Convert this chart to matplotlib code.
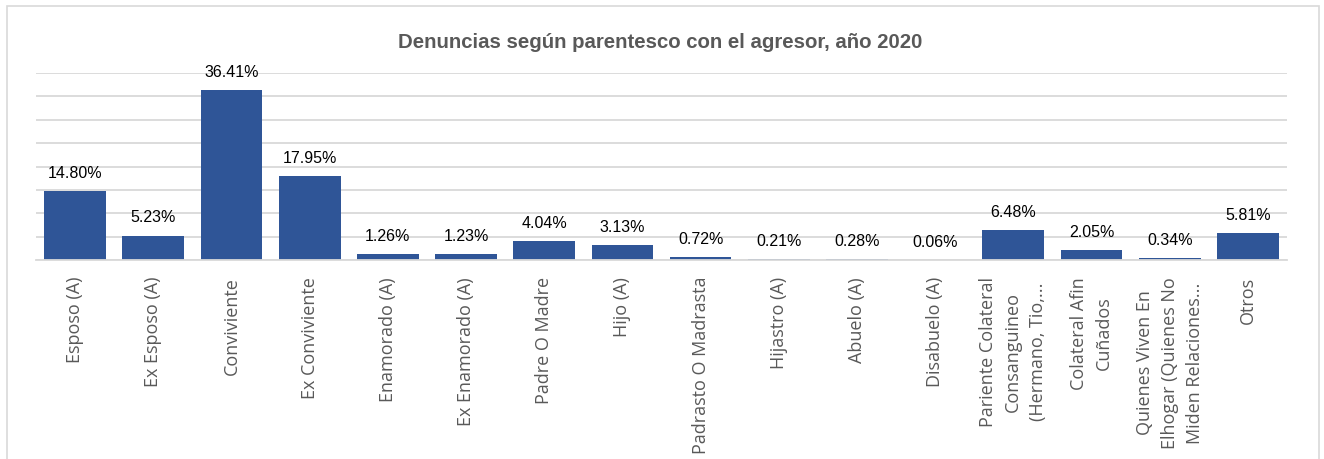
import matplotlib
matplotlib.use("Agg")
import matplotlib.pyplot as plt
from matplotlib.patches import Rectangle

# datos del gráfico
categorias = [
    "Esposo (A)", "Ex Esposo (A)", "Conviviente", "Ex Conviviente",
    "Enamorado (A)", "Ex Enamorado (A)", "Padre O Madre", "Hijo (A)",
    "Padrasto O Madrasta", "Hijastro (A)", "Abuelo (A)", "Disabuelo (A)",
    "Pariente Colateral\nConsanguineo\n(Hermano, Tio,...",
    "Colateral Afin\nCuñados",
    "Quienes Viven En\nElhogar (Quienes No\nMiden Relaciones...",
    "Otros",
]
porcentajes = [14.80, 5.23, 36.41, 17.95, 1.26, 1.23, 4.04, 3.13,
               0.72, 0.21, 0.28, 0.06, 6.48, 2.05, 0.34, 5.81]

color_barra = "#2F5597"
color_grid = "#D9D9D9"
color_texto = "#595959"

fig = plt.figure(figsize=(13.24, 4.6), dpi=100)

# borde del área del gráfico
fig.patches.append(Rectangle((7 / 1324, -0.05), 1312 / 1324, 1.05 - 7 / 460,
                             transform=fig.transFigure, fill=False,
                             edgecolor=color_grid, linewidth=1.2))

ax = fig.add_axes([36 / 1324, 1 - 261 / 460, 1251 / 1324, (261 - 74) / 460])
x = range(len(categorias))
barras = ax.bar(x, porcentajes, width=0.79, color=color_barra, zorder=2)

ax.set_xlim(-0.5, len(categorias) - 0.5)
ax.set_ylim(0, 40)
ax.set_yticks(range(0, 41, 5))
ax.yaxis.grid(True, color=color_grid, linewidth=1.3, zorder=0)
ax.tick_params(axis="y", left=False, labelleft=False)
ax.tick_params(axis="x", bottom=False, pad=8)
for lado in ["top", "right", "left"]:
    ax.spines[lado].set_visible(False)
ax.spines["bottom"].set_color(color_grid)
ax.spines["bottom"].set_linewidth(1.3)

ax.set_xticks(list(x))
ax.set_xticklabels(categorias, rotation=90, fontsize=13, color=color_texto,
                   family="Open Sans", va="top", ha="center",
                   multialignment="center", linespacing=1.5)

# etiquetas de datos
for b, v in zip(barras, porcentajes):
    ax.annotate(f"{v:.2f}%", (b.get_x() + b.get_width() / 2, v),
                xytext=(0, 8), textcoords="offset points",
                ha="center", va="bottom", fontsize=11.5,
                family="Liberation Sans", color="#000000")

fig.text(660 / 1324, 1 - 43 / 460,
         "Denuncias según parentesco con el agresor, año 2020",
         ha="center", va="center", fontsize=14.7, fontweight="bold",
         family="Liberation Sans", color=color_texto)

fig.savefig("out.png", dpi=100)
